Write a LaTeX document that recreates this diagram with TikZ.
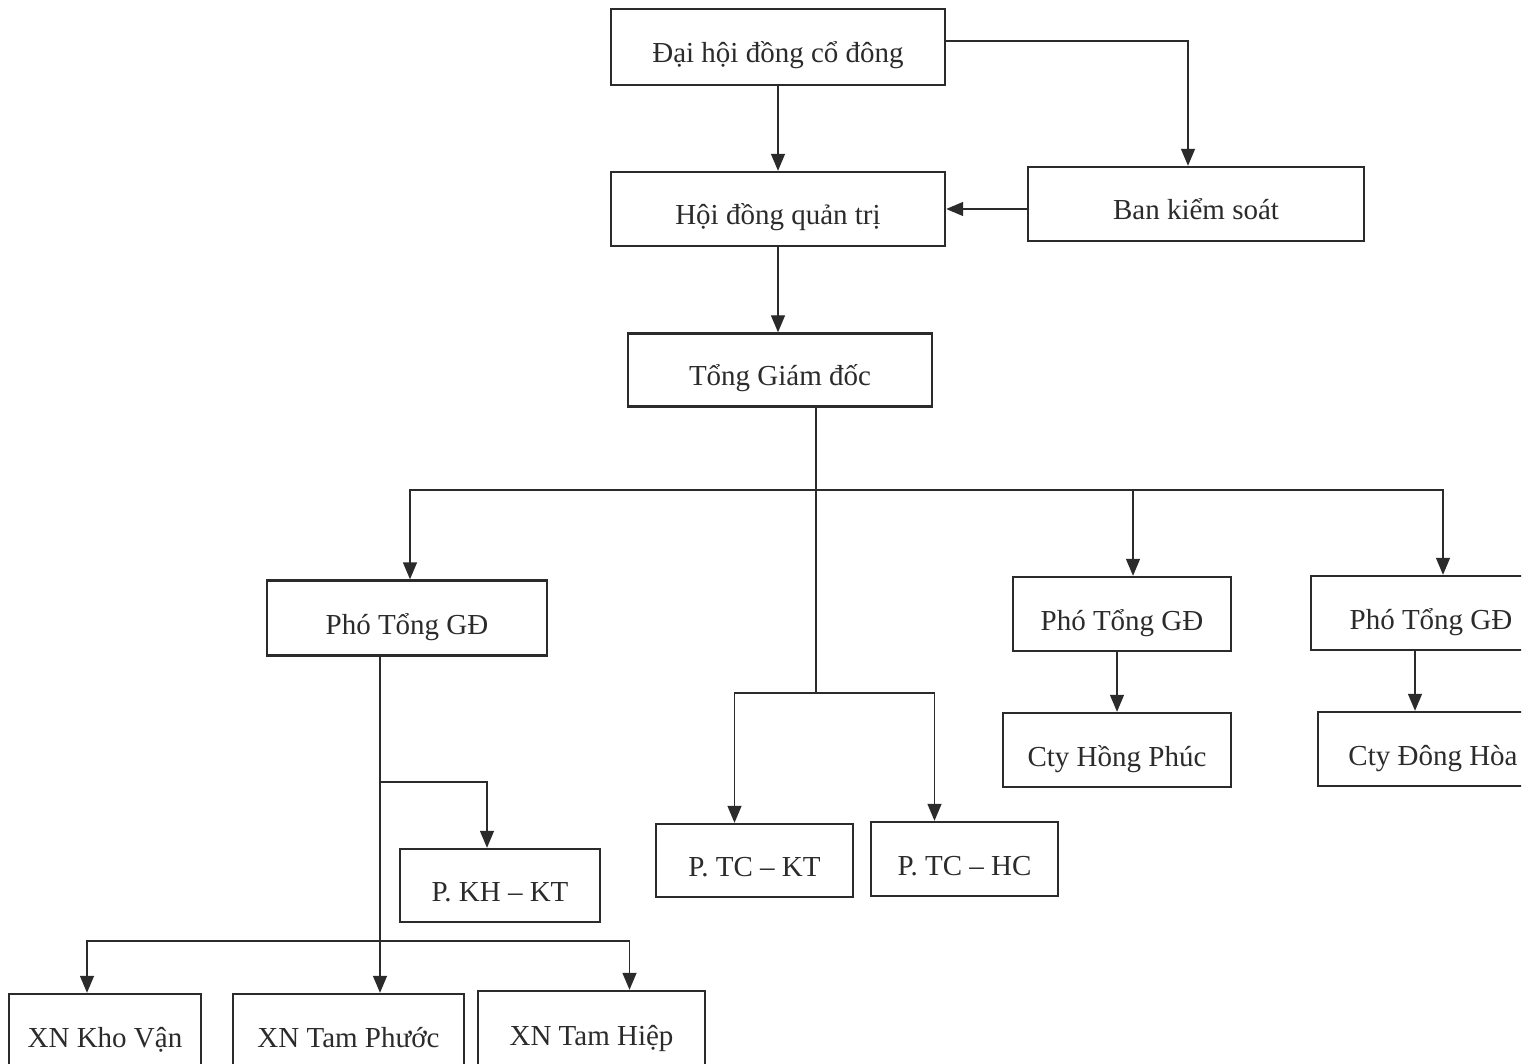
\documentclass[tikz,border=0pt]{standalone}
\usepackage{fontspec}
\setmainfont{Liberation Serif}
\usetikzlibrary{arrows.meta}
\definecolor{ink}{HTML}{2B2B2B}
\begin{document}
\begin{tikzpicture}[x=1pt,y=-1pt,
  box/.style={draw=ink,line width=2.4pt,rectangle,inner sep=0pt,text=ink,
    text height=34pt,text depth=2pt,
    font=\fontsize{29}{32}\selectfont},
  conn/.style={draw=ink,line width=1.4pt},
  arr/.style={conn,-{Triangle[length=17pt,width=14pt]}}]
\useasboundingbox (0,0) rectangle (1534,1064);
\fill[white] (0,0) rectangle (1534,1064);
\clip (0,0) rectangle (1521,1064);
% nodes
\node[box,minimum width=334pt,minimum height=76pt] (dh) at (778,47) {Đại hội đồng cổ đông};
\node[box,minimum width=334pt,minimum height=74pt] (hd) at (778,209) {Hội đồng quản trị};
\node[box,minimum width=336pt,minimum height=74pt] (bks) at (1196,204) {Ban kiểm soát};
\node[box,minimum width=304pt,minimum height=73pt] (tgd) at (780,370) {Tổng Giám đốc};
\node[box,minimum width=280pt,minimum height=75pt] (pl) at (407,618) {Phó Tổng GĐ};
\node[box,minimum width=218pt,minimum height=74pt] (pm) at (1122,614) {Phó Tổng GĐ};
\node[box,minimum width=240pt,minimum height=74pt] (pr) at (1431,613) {Phó Tổng GĐ};
\node[box,minimum width=228pt,minimum height=74pt] (chp) at (1117,750) {Cty Hồng Phúc};
\node[box,minimum width=230pt,minimum height=74pt] (cdh) at (1433,749) {Cty Đông Hòa};
\node[box,minimum width=197pt,minimum height=73pt] (tckt) at (754.5,860.5) {P. TC -- KT};
\node[box,minimum width=187pt,minimum height=74pt] (tchc) at (964.5,859) {P. TC -- HC};
\node[box,minimum width=200pt,minimum height=73pt] (khkt) at (500,885.5) {P. KH -- KT};
\node[box,minimum width=192pt,minimum height=74pt] (kv) at (105,1031) {XN Kho Vận};
\node[box,minimum width=231pt,minimum height=74pt] (tp) at (348.5,1031) {XN Tam Phước};
\node[box,minimum width=227pt,minimum height=76pt] (th) at (591.5,1029) {XN Tam Hiệp};
% junctions
\coordinate (j1) at (816,490);
\coordinate (j2) at (816,693);
\coordinate (k1) at (380,782);
\coordinate (k2) at (380,941);
% connectors
\draw[arr] (dh.south) -- (hd.north);
\draw[arr] ([yshift=6pt]dh.east) -| ([xshift=-8pt]bks.north);
\draw[arr] (bks.west |- hd.east) -- (hd.east);
\draw[arr] (hd.south) -- (hd.south |- tgd.north);
\draw[conn] (tgd.south -| j1) -- (j2);
\draw[arr] (j1) -| ([xshift=3pt]pl.north);
\draw[arr] (j1) -| ([xshift=11pt]pm.north);
\draw[arr] (j1) -| ([xshift=12pt]pr.north);
\draw[arr] (j2) -| ([xshift=-20pt]tckt.north);
\draw[arr] (j2) -| ([xshift=-30pt]tchc.north);
\draw[arr] (pm.south -| chp.north) -- (chp.north);
\draw[arr] ([xshift=-16pt]pr.south) -- ([xshift=-16pt]pr.south |- cdh.north);
\draw[arr] (pl.south -| k1) -- (tp.north -| k1);
\draw[arr] (k1) -| ([xshift=-13pt]khkt.north);
\draw[arr] (k2) -| ([xshift=-18pt]kv.north);
\draw[arr] (k2) -| ([xshift=38pt]th.north);
\end{tikzpicture}
\end{document}
